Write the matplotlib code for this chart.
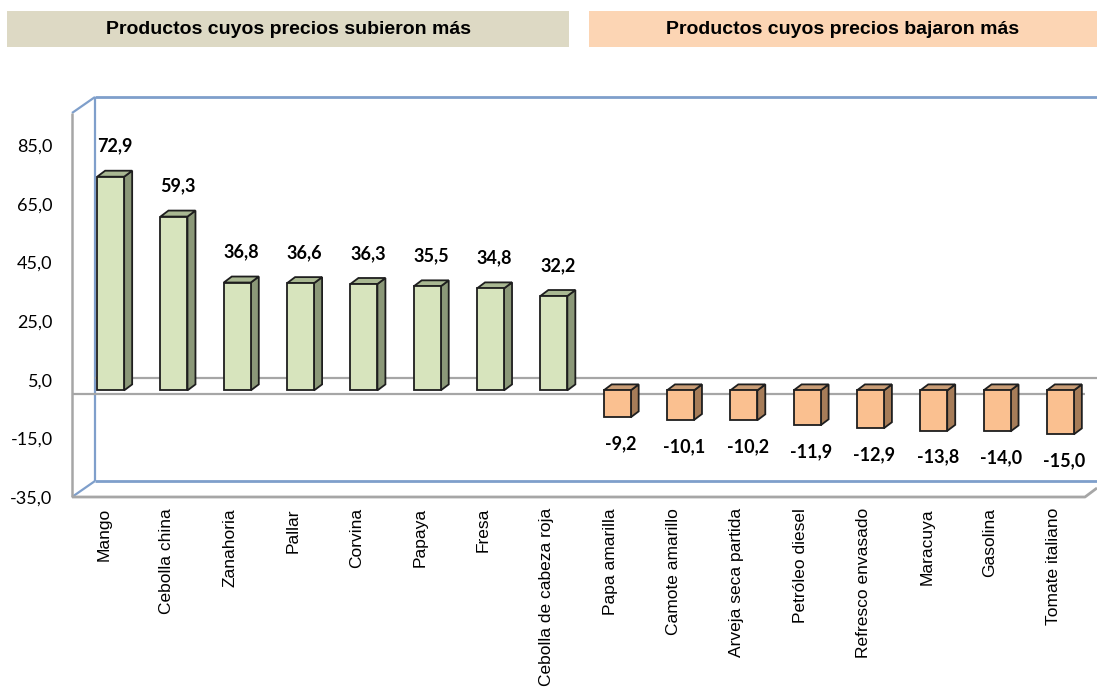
import matplotlib
matplotlib.use("Agg")
import matplotlib.pyplot as plt
from matplotlib.patches import Polygon, Rectangle
import numpy as np

categories = ["Mango", "Cebolla china", "Zanahoria", "Pallar", "Corvina", "Papaya",
              "Fresa", "Cebolla de cabeza roja", "Papa amarilla", "Camote amarillo",
              "Arveja seca partida", "Petróleo diesel", "Refresco envasado",
              "Maracuya", "Gasolina", "Tomate italiano"]
values = [72.9, 59.3, 36.8, 36.6, 36.3, 35.5, 34.8, 32.2,
          -9.2, -10.1, -10.2, -11.9, -12.9, -13.8, -14.0, -15.0]
value_labels = ["72,9", "59,3", "36,8", "36,6", "36,3", "35,5", "34,8", "32,2",
                "-9,2", "-10,1", "-10,2", "-11,9", "-12,9", "-13,8", "-14,0", "-15,0"]
yticks = [-35, -15, 5, 25, 45, 65, 85]
ytick_labels = ["-35,0", "-15,0", "5,0", "25,0", "45,0", "65,0", "85,0"]
header_left = "Productos cuyos precios subieron más"
header_right = "Productos cuyos precios bajaron más"

W, H = 1097, 688
fig = plt.figure(figsize=(W / 100, H / 100), dpi=100)
fig.patch.set_facecolor("white")

# axes placed in pixel terms
ax_l, ax_r, ax_t, ax_b = 72, 1085, 113, 497
ax = fig.add_axes([ax_l / W, 1 - ax_b / H, (ax_r - ax_l) / W, (ax_b - ax_t) / H])
ymin, ymax = -35, 96
xmin, xmax = -0.5, len(categories) - 0.5
ax.set_xlim(xmin, xmax)
ax.set_ylim(ymin, ymax)
for s in ax.spines.values():
    s.set_visible(False)

pxx = (ax_r - ax_l) / (xmax - xmin)   # px per category
pxy = (ax_b - ax_t) / (ymax - ymin)   # px per unit

# 3D offsets (px -> data)
wall_dx, wall_dy = 23 / pxx, 16 / pxy
bar_offx, bar_offy = 7 / pxx, 4 / pxy
depth_dx, depth_dy = 8 / pxx, 6 / pxy
bw = 27 / pxx

blue = "#7f9fcb"
gray = "#a6a6a6"

def line(xs, ys, c, lw=1.6, z=1):
    ax.plot(xs, ys, color=c, lw=lw, clip_on=False, zorder=z, solid_capstyle="butt")

# back wall
bx0, bx1 = xmin + wall_dx, xmax + wall_dx
line([bx0, bx0], [ymin + wall_dy, ymax + wall_dy], blue)
line([bx0, bx1], [ymax + wall_dy, ymax + wall_dy], blue, lw=2.0)
line([bx0, bx1], [ymin + wall_dy, ymin + wall_dy], blue, lw=2.0)
line([bx0, bx1], [0 + wall_dy, 0 + wall_dy], gray, lw=1.6)
# left side wall
line([xmin, bx0], [ymax, ymax + wall_dy], blue)
line([xmin, bx0], [ymin, ymin + wall_dy], blue)
line([xmin, xmin], [ymin, ymax], gray, lw=1.8)
# front floor edge
line([xmin, xmax, xmax + 12 / pxx], [ymin, ymin, ymin + 9 / pxy], gray, lw=2.0)
# front zero line
line([xmin, xmax], [0, 0], gray, lw=1.6, z=2)

x = np.arange(len(categories))
face_colors = ["#d7e4bd" if v >= 0 else "#fac090" for v in values]
side_colors = ["#8b9878" if v >= 0 else "#a67c58" for v in values]
top_colors = ["#a9b892" if v >= 0 else "#c99d76" for v in values]
edge = "#1e1e1e"

xs = x + bar_offx
ax.bar(xs, values, width=bw, bottom=bar_offy, color=face_colors,
       edgecolor=edge, linewidth=1.3, zorder=5)
for xi, v, sc, tc in zip(xs, values, side_colors, top_colors):
    x0, x1 = xi - bw / 2, xi + bw / 2
    y0, y1 = bar_offy, bar_offy + v
    yt = max(y0, y1)
    side = Polygon([(x1, y0), (x1 + depth_dx, y0 + depth_dy),
                    (x1 + depth_dx, y1 + depth_dy), (x1, y1)],
                   closed=True, facecolor=sc, edgecolor=edge, lw=1.3, zorder=4)
    top = Polygon([(x0, yt), (x0 + depth_dx, yt + depth_dy),
                   (x1 + depth_dx, yt + depth_dy), (x1, yt)],
                  closed=True, facecolor=tc, edgecolor=edge, lw=1.3, zorder=4)
    ax.add_patch(side)
    ax.add_patch(top)

# value labels
for xi, v, lab in zip(xs, values, value_labels):
    tip = bar_offy + v
    dy = 22 if v >= 0 else -19
    ax.annotate(lab, (xi + depth_dx / 2, tip), xytext=(0, dy), textcoords="offset points",
                ha="center", va="center", fontsize=13, fontweight="bold",
                family=["Lato", "DejaVu Sans"], color="#000000", zorder=6,
                annotation_clip=False)

# y ticks
ax.set_yticks(yticks)
ax.set_yticklabels(ytick_labels, family=["Lato", "DejaVu Sans"], fontsize=13)
ax.tick_params(axis="y", length=0, pad=14)

# x tick labels
ax.set_xticks(x)
ax.set_xticklabels(categories, rotation=90, family=["Liberation Sans", "DejaVu Sans"],
                   fontsize=12.5, va="top", ha="center")
ax.tick_params(axis="x", length=0, pad=8)

# headers
def header(x0, x1, color, text):
    fig.patches.append(Rectangle((x0 / W, 1 - 47 / H), (x1 - x0) / W, 36 / H,
                                 transform=fig.transFigure, facecolor=color,
                                 edgecolor="none", zorder=0))
    fig.text((x0 + x1) / 2 / W, 1 - 29.5 / H, text, ha="center", va="center",
             fontsize=14, fontweight="bold", family=["Liberation Sans", "DejaVu Sans"])

header(7, 569, "#ddd9c4", header_left)
header(589, 1097, "#fcd5b4", header_right)

fig.savefig("out.png", dpi=100, facecolor="white")
